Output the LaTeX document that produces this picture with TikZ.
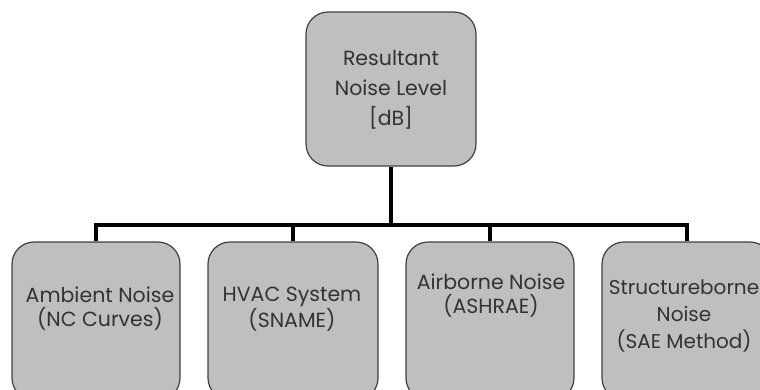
\documentclass[tikz,border=0pt]{standalone}
\usepackage{fontspec}
\setmainfont{Poppins}
\begin{document}
\begin{tikzpicture}[x=1pt,y=1pt,
  box/.style={draw=black!75, line width=1.2pt, fill=black!25, rounded corners=22pt, minimum width=170pt, inner sep=0pt},
  txt/.style={text=black!80, font=\fontsize{20.5}{24}\selectfont, align=center, inner sep=0pt},
  conn/.style={line width=3.3pt, black}]
\clip (0,0) rectangle (760,-389);
\useasboundingbox (0,0) rectangle (760,-389);
\node[box, minimum height=154pt] (top) at (391,-89) {};
\node[box, minimum height=158pt, minimum width=168pt] (b1) at (96,-321) {};
\node[box, minimum height=158pt] (b2) at (293,-321) {};
\node[box, minimum height=158pt, minimum width=168pt] (b3) at (490,-321) {};
\node[box, minimum height=158pt] (b4) at (687,-321) {};
\node[txt, font=\fontsize{20.5}{30}\selectfont] (ttop) at (391,-90) {Resultant\\Noise Level\\{[dB]}};
\node[txt] (t1) at (100,-309) {Ambient Noise\\(NC Curves)};
\node[txt] (t2) at (292,-309) {HVAC System\\(SNAME)};
\node[txt] (t3) at (491,-296) {Airborne Noise\\(ASHRAE)};
\node[txt, font=\fontsize{20}{27}\selectfont] (t4) at (684,-316) {Structureborne\\Noise\\(SAE Method)};
\coordinate (bus) at (391,-225);
\draw[conn] (top.south) -- (bus);
\draw[conn] (b1.north) -- (b1.north |- bus) -- (b4.north |- bus) -- (b4.north);
\draw[conn] (b2.north) -- (b2.north |- bus);
\draw[conn] (b3.north) -- (b3.north |- bus);
\end{tikzpicture}
\end{document}
